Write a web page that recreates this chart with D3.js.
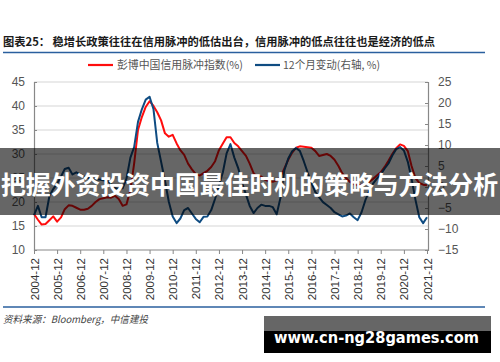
<!DOCTYPE html>
<html><head><meta charset="utf-8">
<script src="https://cdn.jsdelivr.net/npm/d3@7"></script>
<style>body{margin:0;background:#fff}svg{display:block}</style>
</head><body>
<svg id="c" width="500" height="362"></svg>
<script>
// bi-monthly observations starting 2004-12
const startMonth = "2004-12";
const creditImpulse = [17.5,16.3,15.3,15.4,16.2,17.0,15.9,16.8,18.5,19.3,19.2,18.8,18.4,18.4,18.6,19.2,20.0,20.6,20.8,21.0,20.9,21.3,20.6,19.2,19.5,22.5,28.0,35.0,37.7,39.8,41.0,40.0,38.7,37.0,34.3,33.6,34.0,32.2,30.8,29.8,28.0,26.8,25.8,25.5,26.0,26.5,27.3,28.5,30.8,32.2,33.5,33.5,32.3,31.6,30.6,29.6,28.0,26.0,25.2,25.3,24.6,24.3,24.2,24.5,25.2,27.0,28.8,30.3,31.3,31.6,31.5,31.4,31.3,30.6,29.6,29.8,30.0,29.6,28.8,27.5,26.0,25.0,24.2,23.7,23.5,23.6,23.8,24.2,24.8,25.5,26.2,27.3,28.6,30.0,31.2,32.0,31.7,30.6,27.5,25.0,24.0,23.6,23.5];
const change12m = [-6.7,-4.5,-7.2,-7.2,-2.2,-0.5,0.8,2.5,4.3,4.6,3.0,3.5,3.0,2.5,2.2,2.0,1.8,1.8,1.6,1.5,0.8,-0.2,-0.5,-0.3,2.0,7.0,9.5,15.5,18.5,20.8,21.5,18.5,10.5,6.0,1.5,-3.5,-7.0,-8.6,-7.5,-5.5,-5.0,-6.3,-7.6,-8.4,-7.1,-7.0,-5.5,-2.8,0.3,3.5,8.0,10.2,7.0,4.5,1.0,-1.8,-4.5,-6.2,-5.0,-4.2,-4.5,-4.5,-4.8,-6.5,-2.5,4.0,6.8,8.5,9.3,8.6,6.2,3.5,1.0,-1.2,-2.4,-3.6,-4.3,-5.0,-6.0,-6.5,-7.0,-6.8,-6.3,-7.2,-7.9,-6.0,-3.2,-1.0,0.8,2.0,3.0,4.4,5.6,7.5,9.0,9.5,8.7,6.0,2.0,-3.0,-7.2,-8.6,-7.2];
const leftTicks = [10,15,20,25,30,35,40,45];
const rightTicks = [-15,-10,-5,0,5,10,15,20,25];
const yearLabels = ["2004-12","2005-12","2006-12","2007-12","2008-12","2009-12","2010-12","2011-12","2012-12","2013-12","2014-12","2015-12","2016-12","2017-12","2018-12","2019-12","2020-12","2021-12"];
const titleText = "图表25： 稳增长政策往往在信用脉冲的低估出台，信用脉冲的低点往往也是经济的低点";
const legendNames = ["彭博中国信用脉冲指数(%)","12个月变动(右轴, %)"];
const sourceText = "资料来源：Bloomberg，中信建投";
const bannerText = "把握外资投资中国最佳时机的策略与方法分析";
const watermarkText = "www.cn-ng28games.com";

const RED = "#ff0d0d", BLUE = "#0f4c82", RULE = "#2a5f9e";
const parse = d3.timeParse("%Y-%m");
const t0 = parse(startMonth);
const dates = creditImpulse.map((d,i)=>d3.timeMonth.offset(t0, 2*i));

const svg = d3.select("#c");
const L = 34, R = 428, T = 82, B = 250;
const x = d3.scaleTime().domain([parse(yearLabels[0]), parse(yearLabels[yearLabels.length-1])]).range([L, 427]);
const yL = d3.scaleLinear().domain([10,45]).range([B,T]);
const yR = d3.scaleLinear().domain([-15,25]).range([B,T]);

// title
svg.append("text").attr("x",3).attr("y",46).attr("font-family","Noto Sans CJK SC").attr("font-weight","bold")
  .attr("font-size",11.5).attr("fill","#1a1a1a").attr("textLength",432).attr("lengthAdjust","spacingAndGlyphs").text(titleText);
svg.append("line").attr("x1",3).attr("x2",485).attr("y1",52.5).attr("y2",52.5).attr("stroke",RULE).attr("stroke-width",1.6);

// legend
const lg = [[88,113,117,126,RED],[255,280,283,97,BLUE]];
lg.forEach((g,i)=>{
  svg.append("line").attr("x1",g[0]).attr("x2",g[1]).attr("y1",65).attr("y2",65).attr("stroke",g[4]).attr("stroke-width",2.2);
  svg.append("text").attr("x",g[2]).attr("y",69).attr("font-family","Noto Sans CJK SC").attr("font-size",11)
    .attr("fill","#555").attr("textLength",g[3]).attr("lengthAdjust","spacingAndGlyphs").text(legendNames[i]);
});

// gridlines
svg.append("g").selectAll("line").data(leftTicks.filter(d=>d>10)).join("line")
  .attr("x1",L).attr("x2",R).attr("y1",d=>yL(d)).attr("y2",d=>yL(d)).attr("stroke","#e3e3e3").attr("stroke-width",1.5);

// left axis
const gl = svg.append("g").attr("transform",`translate(${L},0)`)
  .call(d3.axisLeft(yL).tickValues(leftTicks).tickSize(-3).tickPadding(9));
gl.select(".domain").attr("stroke","#888").attr("stroke-width",1.2);
gl.selectAll(".tick line").attr("stroke","#888");
gl.selectAll("text").attr("font-family","Liberation Sans").attr("font-size",12).attr("fill","#555");

// right axis
const gr = svg.append("g").attr("transform",`translate(${R},0)`)
  .call(d3.axisRight(yR).tickValues(rightTicks).tickSize(-3).tickPadding(10));
gr.select(".domain").attr("stroke","#888").attr("stroke-width",1.2);
gr.selectAll(".tick line").attr("stroke","#888");
gr.selectAll("text").attr("font-family","Liberation Sans").attr("font-size",12).attr("fill","#555");

// bottom axis
const gx = svg.append("g").attr("transform",`translate(0,${B})`)
  .call(d3.axisBottom(x).tickValues(yearLabels.map(parse)).tickSize(4).tickFormat(d3.timeFormat("%Y-%m")));
gx.select(".domain").attr("stroke","#888").attr("stroke-width",1.2).attr("d",`M${L},0H${R}`);
gx.selectAll(".tick line").attr("stroke","#888");
gx.selectAll("text").attr("font-family","Liberation Sans").attr("font-size",11.5).attr("fill","#333")
  .attr("transform","rotate(-90)").attr("text-anchor","end").attr("x",-8).attr("y",0).attr("dy","0.35em");

// lines
const lineL = d3.line().x((d,i)=>x(dates[i])).y(d=>yL(d));
const lineR = d3.line().x((d,i)=>x(dates[i])).y(d=>yR(d));
svg.append("path").datum(creditImpulse).attr("d",lineL).attr("fill","none").attr("stroke",RED).attr("stroke-width",2).attr("stroke-linejoin","round");
svg.append("path").datum(change12m).attr("d",lineR).attr("fill","none").attr("stroke",BLUE).attr("stroke-width",2).attr("stroke-linejoin","round");

// bottom rule and source
svg.append("line").attr("x1",3).attr("x2",485).attr("y1",307).attr("y2",307).attr("stroke",RULE).attr("stroke-width",1.4);
svg.append("text").attr("x",3).attr("y",323).attr("font-family","Noto Sans CJK SC").attr("font-style","italic")
  .attr("font-size",10).attr("fill","#444").attr("textLength",145).attr("lengthAdjust","spacingAndGlyphs").text(sourceText);

// overlay banner
svg.append("rect").attr("x",0).attr("y",148).attr("width",500).attr("height",67).attr("fill","rgba(0,0,0,0.6)");
svg.append("text").attr("x",1).attr("y",194).attr("font-family","Noto Sans CJK SC").attr("font-weight","bold")
  .attr("font-size",25).attr("fill","#fff").attr("textLength",497).attr("lengthAdjust","spacingAndGlyphs").text(bannerText);

// watermark
svg.append("rect").attr("x",264).attr("y",316).attr("width",227).attr("height",37).attr("fill","#000");
svg.append("rect").attr("x",264).attr("y",316).attr("width",227).attr("height",15).attr("fill","#666");
svg.append("text").attr("x",274).attr("y",343).attr("font-family","DejaVu Sans").attr("font-weight","bold")
  .attr("font-size",16).attr("fill","#fff").attr("textLength",205).attr("lengthAdjust","spacingAndGlyphs").text(watermarkText);
</script>
</body></html>
